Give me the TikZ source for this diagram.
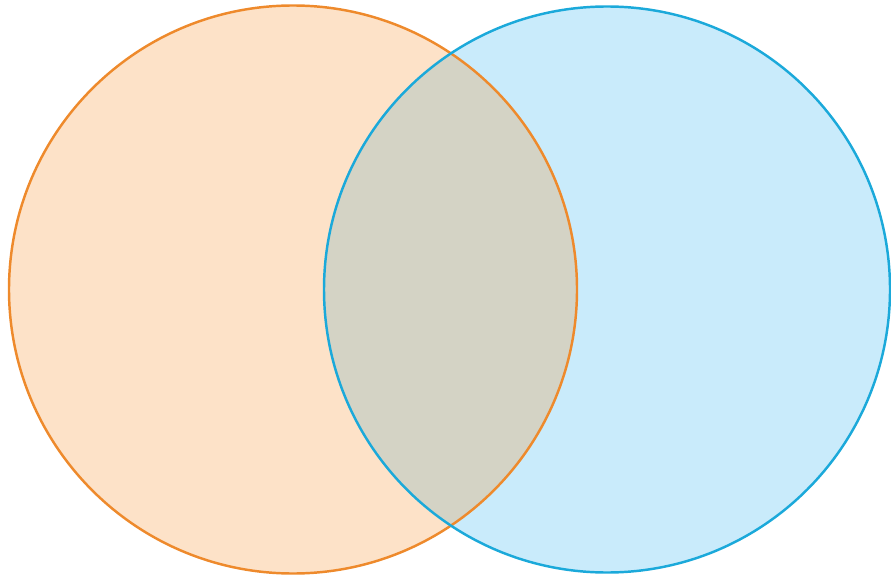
\documentclass[tikz,border=0pt]{standalone}
\usepackage{xcolor}
\usepackage{tikz}
\definecolor{setA}{HTML}{EE8A2C}
\definecolor{setAfill}{HTML}{FDE2C8}
\definecolor{setB}{HTML}{1BA9DA}
\definecolor{setBfill}{HTML}{C9EBFB}
\definecolor{setAB}{HTML}{D4D3C5}
\begin{document}
\begin{tikzpicture}[x=0.02cm,y=-0.02cm]
\useasboundingbox (0,0) rectangle (891,584);
\coordinate (a) at (293,289.5);
\coordinate (b) at (607,289.5);
\fill[setAfill](a) circle (284);
\fill[setBfill](b) circle (283);
\begin{scope}
\clip (a) circle (284);
\fill[setAB](b) circle (283);
\end{scope}
\draw[line width=1.4pt,setA](a) circle (284);
\draw[line width=1.4pt,setB](b) circle (283);
\end{tikzpicture}
\end{document}
